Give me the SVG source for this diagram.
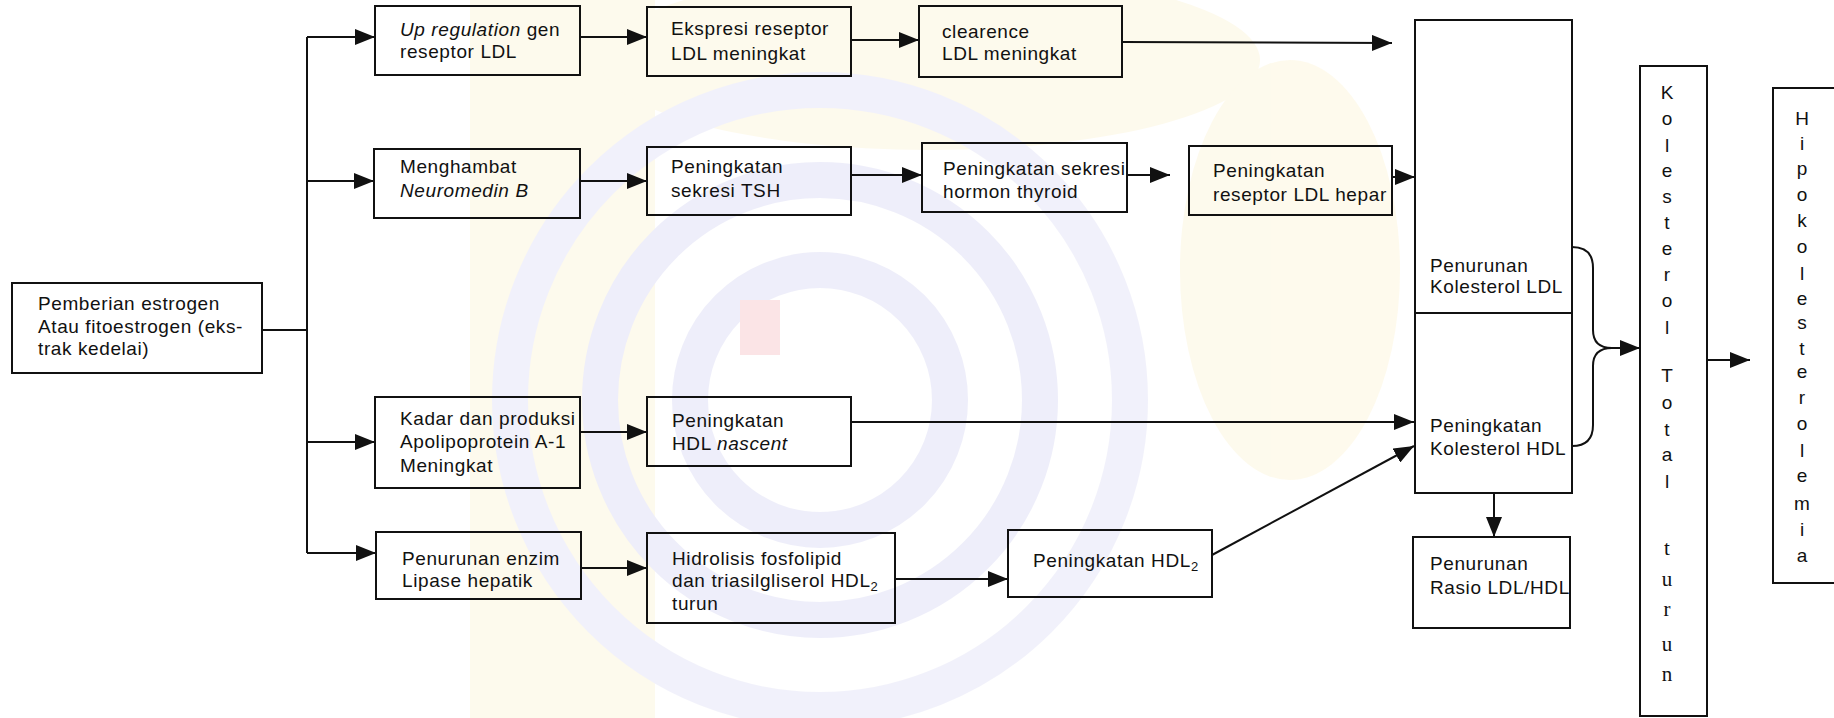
<svg xmlns="http://www.w3.org/2000/svg" width="1834" height="718" viewBox="0 0 1834 718">
<style>
.box{fill:none;stroke:#111;stroke-width:2}
.t{font-family:"Liberation Sans",Arial,sans-serif;font-size:19px;letter-spacing:0.6px;fill:#111}
.v{font-family:"Liberation Sans",Arial,sans-serif;font-size:19px;fill:#111;text-anchor:middle}
.vs{font-family:"Liberation Serif","Times New Roman",serif;font-size:21px;fill:#111;text-anchor:middle}
.c{fill:none;stroke:#111;stroke-width:2}
.i{font-style:italic}
</style>
<defs>
<marker id="ah" markerUnits="userSpaceOnUse" markerWidth="20" markerHeight="16" refX="20" refY="8" orient="auto">
<path d="M0,0 L20,8 L0,16 z" fill="#111"/>
</marker>
</defs>
<rect width="1834" height="718" fill="#ffffff"/>
<g id="watermark" opacity="0.3">
<rect x="470" y="0" width="185" height="718" fill="#fbefc4"/>
<ellipse cx="930" cy="60" rx="330" ry="90" fill="#fbefc4"/>
<ellipse cx="1290" cy="270" rx="110" ry="210" fill="#fbefc4"/>
<circle cx="820" cy="400" r="130" fill="none" stroke="#c9c9ef" stroke-width="36"/>
<circle cx="820" cy="400" r="220" fill="none" stroke="#c9c9ef" stroke-width="36"/>
<circle cx="820" cy="400" r="310" fill="none" stroke="#d4d4f2" stroke-width="36"/>
<rect x="740" y="300" width="40" height="55" fill="#f4a8b0"/>
</g>
<g id="connectors">
<path class="c" d="M262,330 H307 M307,37 V553"/>
<path class="c" d="M307,37 H375" marker-end="url(#ah)"/>
<path class="c" d="M307,181 H374" marker-end="url(#ah)"/>
<path class="c" d="M307,442 H375" marker-end="url(#ah)"/>
<path class="c" d="M307,553 H376" marker-end="url(#ah)"/>
<path class="c" d="M580,37 H647" marker-end="url(#ah)"/>
<path class="c" d="M851,40 H919" marker-end="url(#ah)"/>
<path class="c" d="M1122,42 L1392,43" marker-end="url(#ah)"/>
<path class="c" d="M580,181 H647" marker-end="url(#ah)"/>
<path class="c" d="M851,175 H922" marker-end="url(#ah)"/>
<path class="c" d="M1127,175 H1170" marker-end="url(#ah)"/>
<path class="c" d="M1392,177 H1415" marker-end="url(#ah)"/>
<path class="c" d="M580,432 H647" marker-end="url(#ah)"/>
<path class="c" d="M851,422 H1414" marker-end="url(#ah)"/>
<path class="c" d="M581,568 H647" marker-end="url(#ah)"/>
<path class="c" d="M895,579 H1008" marker-end="url(#ah)"/>
<path class="c" d="M1212,555 L1414,446" marker-end="url(#ah)"/>
<path class="c" d="M1494,493 V537" marker-end="url(#ah)"/>
<path class="c" d="M1572,247 Q1593,247 1593,268 V330 Q1593,348 1612,348"/>
<path class="c" d="M1572,446 Q1593,446 1593,425 V366 Q1593,348 1612,348"/>
<path class="c" d="M1608,348 H1640" marker-end="url(#ah)"/>
<path class="c" d="M1707,360 H1750" marker-end="url(#ah)"/>
</g>
<g id="n-start">
<rect class="box" x="12" y="283" width="250" height="90"/>
<text class="t" x="38" y="310">Pemberian estrogen</text>
<text class="t" x="38" y="333">Atau fitoestrogen (eks-</text>
<text class="t" x="38" y="355">trak kedelai)</text>
</g>
<g id="n-upreg">
<rect class="box" x="375" y="6" width="205" height="69"/>
<text class="t" x="400" y="36"><tspan class="i">Up regulation</tspan> gen</text>
<text class="t" x="400" y="58">reseptor LDL</text>
</g>
<g id="n-ekspresi">
<rect class="box" x="647" y="7" width="204" height="69"/>
<text class="t" x="671" y="35">Ekspresi reseptor</text>
<text class="t" x="671" y="60">LDL meningkat</text>
</g>
<g id="n-clearence">
<rect class="box" x="919" y="6" width="203" height="71"/>
<text class="t" x="942" y="38">clearence</text>
<text class="t" x="942" y="60">LDL meningkat</text>
</g>
<g id="n-menghambat">
<rect class="box" x="374" y="149" width="206" height="69"/>
<text class="t" x="400" y="173">Menghambat</text>
<text class="t i" x="400" y="197">Neuromedin B</text>
</g>
<g id="n-tsh">
<rect class="box" x="647" y="147" width="204" height="68"/>
<text class="t" x="671" y="173">Peningkatan</text>
<text class="t" x="671" y="197">sekresi TSH</text>
</g>
<g id="n-thyroid">
<rect class="box" x="922" y="143" width="205" height="69"/>
<text class="t" x="943" y="175">Peningkatan sekresi</text>
<text class="t" x="943" y="198">hormon thyroid</text>
</g>
<g id="n-hepar">
<rect class="box" x="1189" y="146" width="203" height="69"/>
<text class="t" x="1213" y="177">Peningkatan</text>
<text class="t" x="1213" y="201">reseptor LDL hepar</text>
</g>
<g id="n-kadar">
<rect class="box" x="375" y="397" width="205" height="91"/>
<text class="t" x="400" y="425">Kadar dan produksi</text>
<text class="t" x="400" y="448">Apolipoprotein A-1</text>
<text class="t" x="400" y="472">Meningkat</text>
</g>
<g id="n-nascent">
<rect class="box" x="647" y="397" width="204" height="69"/>
<text class="t" x="672" y="427">Peningkatan</text>
<text class="t" x="672" y="450">HDL <tspan class="i">nascent</tspan></text>
</g>
<g id="n-enzim">
<rect class="box" x="376" y="532" width="205" height="67"/>
<text class="t" x="402" y="565">Penurunan enzim</text>
<text class="t" x="402" y="587">Lipase hepatik</text>
</g>
<g id="n-hidrolisis">
<rect class="box" x="647" y="533" width="248" height="90"/>
<text class="t" x="672" y="565">Hidrolisis fosfolipid</text>
<text class="t" x="672" y="587">dan triasilgliserol HDL<tspan font-size="13" dy="4">2</tspan></text>
<text class="t" x="672" y="610">turun</text>
</g>
<g id="n-hdl2">
<rect class="box" x="1008" y="530" width="204" height="67"/>
<text class="t" x="1033" y="567">Peningkatan HDL<tspan font-size="13" dy="4">2</tspan></text>
</g>
<g id="n-ldl">
<rect class="box" x="1415" y="20" width="157" height="293"/>
<text class="t" x="1430" y="272">Penurunan</text>
<text class="t" x="1430" y="293">Kolesterol LDL</text>
</g>
<g id="n-hdl">
<rect class="box" x="1415" y="313" width="157" height="180"/>
<text class="t" x="1430" y="432">Peningkatan</text>
<text class="t" x="1430" y="455">Kolesterol HDL</text>
</g>
<g id="n-rasio">
<rect class="box" x="1413" y="537" width="157" height="91"/>
<text class="t" x="1430" y="570">Penurunan</text>
<text class="t" x="1430" y="594">Rasio LDL/HDL</text>
</g>
<g id="n-total">
<rect class="box" x="1640" y="66" width="67" height="650"/>
<text class="v" x="1667" y="99">K</text>
<text class="v" x="1667" y="125">o</text>
<text class="v" x="1667" y="152">l</text>
<text class="v" x="1667" y="177">e</text>
<text class="v" x="1667" y="203">s</text>
<text class="v" x="1667" y="229">t</text>
<text class="v" x="1667" y="255">e</text>
<text class="v" x="1667" y="281">r</text>
<text class="v" x="1667" y="307">o</text>
<text class="v" x="1667" y="334">l</text>
<text class="v" x="1667" y="382">T</text>
<text class="v" x="1667" y="409">o</text>
<text class="v" x="1667" y="436">t</text>
<text class="v" x="1667" y="461">a</text>
<text class="v" x="1667" y="488">l</text>
<text class="vs" x="1667" y="555">t</text>
<text class="vs" x="1667" y="586">u</text>
<text class="vs" x="1667" y="616">r</text>
<text class="vs" x="1667" y="651">u</text>
<text class="vs" x="1667" y="681">n</text>
</g>
<g id="n-hipo">
<rect class="box" x="1773" y="88" width="70" height="495"/>
<text class="v" x="1802" y="125">H</text>
<text class="v" x="1802" y="150">i</text>
<text class="v" x="1802" y="175">p</text>
<text class="v" x="1802" y="201">o</text>
<text class="v" x="1802" y="227">k</text>
<text class="v" x="1802" y="253">o</text>
<text class="v" x="1802" y="280">l</text>
<text class="v" x="1802" y="305">e</text>
<text class="v" x="1802" y="329">s</text>
<text class="v" x="1802" y="355">t</text>
<text class="v" x="1802" y="378">e</text>
<text class="v" x="1802" y="404">r</text>
<text class="v" x="1802" y="430">o</text>
<text class="v" x="1802" y="457">l</text>
<text class="v" x="1802" y="482">e</text>
<text class="v" x="1802" y="510">m</text>
<text class="v" x="1802" y="536">i</text>
<text class="v" x="1802" y="562">a</text>
</g>
</svg>
